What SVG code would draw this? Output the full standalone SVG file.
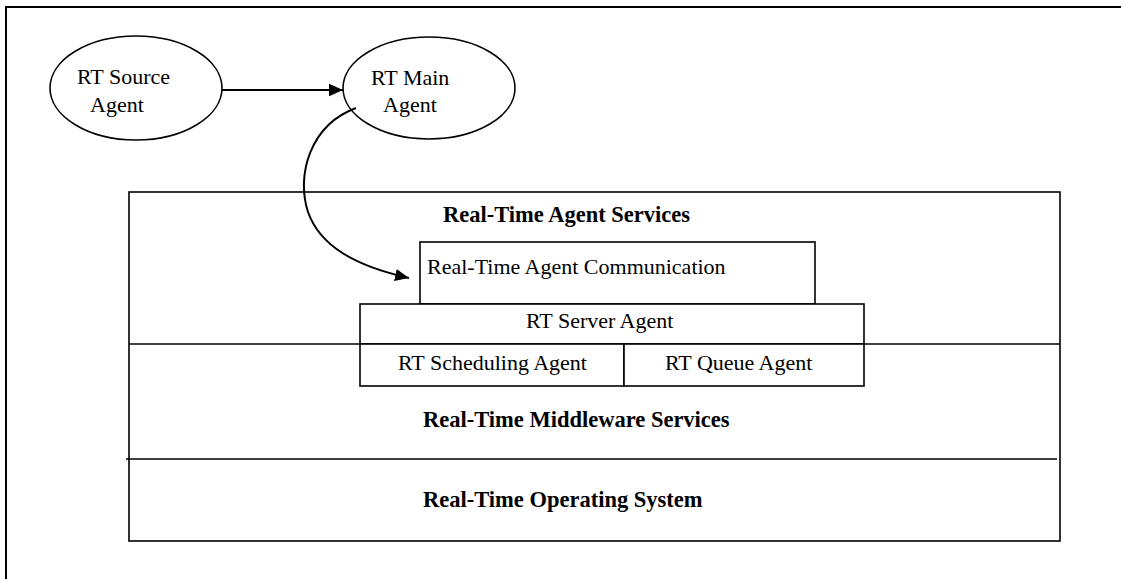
<svg xmlns="http://www.w3.org/2000/svg" width="1121" height="579" viewBox="0 0 1121 579">
  <style>
    .frame { fill: none; stroke: #000; stroke-width: 2; }
    .box { fill: #fff; stroke: #000; stroke-width: 1.6; }
    .sep { stroke: #000; stroke-width: 1.6; fill: none; }
    .node { fill: #fff; stroke: #000; stroke-width: 1.6; }
    .edge { fill: none; stroke: #000; stroke-width: 2; }
    .label { font-family: "Liberation Serif", "Times New Roman", serif; font-size: 22px; fill: #000; }
    .title { font-family: "Liberation Serif", "Times New Roman", serif; font-size: 22.5px; font-weight: bold; fill: #000; }
  </style>
  <defs>
    <marker id="arrow" markerUnits="userSpaceOnUse" markerWidth="16" markerHeight="14" refX="14" refY="7" orient="auto">
      <path d="M0,0.8 L14,7 L0,13.2 Z" fill="#000"/>
    </marker>
  </defs>

  <rect width="1121" height="579" fill="#fff"/>

  <!-- page frame -->
  <rect class="frame" x="6" y="7" width="1200" height="700"/>

  <!-- layered service stack -->
  <g id="stack">
    <rect class="box" x="129" y="192" width="931" height="349"/>
    <line class="sep" x1="129" y1="344" x2="1060" y2="344"/>
    <line class="sep" x1="126" y1="459" x2="1057" y2="459"/>
    <text class="title" x="443" y="222">Real-Time Agent Services</text>
    <text class="title" x="423" y="427">Real-Time Middleware Services</text>
    <text class="title" x="423" y="507">Real-Time Operating System</text>
  </g>

  <g id="communication">
    <rect class="box" x="420" y="242" width="395" height="62"/>
    <text class="label" x="427" y="274">Real-Time Agent Communication</text>
  </g>

  <g id="server">
    <rect class="box" x="360" y="304" width="504" height="40"/>
    <text class="label" x="526" y="328">RT Server Agent</text>
  </g>

  <g id="scheduling">
    <rect class="box" x="360" y="344" width="264" height="42"/>
    <text class="label" x="398" y="370">RT Scheduling Agent</text>
  </g>

  <g id="queue">
    <rect class="box" x="624" y="344" width="240" height="42"/>
    <text class="label" x="665" y="370">RT Queue Agent</text>
  </g>

  <g id="source-agent">
    <ellipse class="node" cx="136" cy="88" rx="86" ry="52"/>
    <text class="label" x="77" y="84">RT Source</text>
    <text class="label" x="90" y="112">Agent</text>
  </g>

  <g id="main-agent">
    <ellipse class="node" cx="429" cy="88" rx="86" ry="51"/>
    <text class="label" x="371" y="85">RT Main</text>
    <text class="label" x="383" y="112">Agent</text>
  </g>

  <!-- connectors -->
  <g id="connectors">
    <line class="edge" x1="222" y1="90" x2="343" y2="90" marker-end="url(#arrow)"/>
    <path class="edge" d="M356,108 C310,125 296,175 308,212 C320,246 355,266 409,278" marker-end="url(#arrow)"/>
  </g>
</svg>
